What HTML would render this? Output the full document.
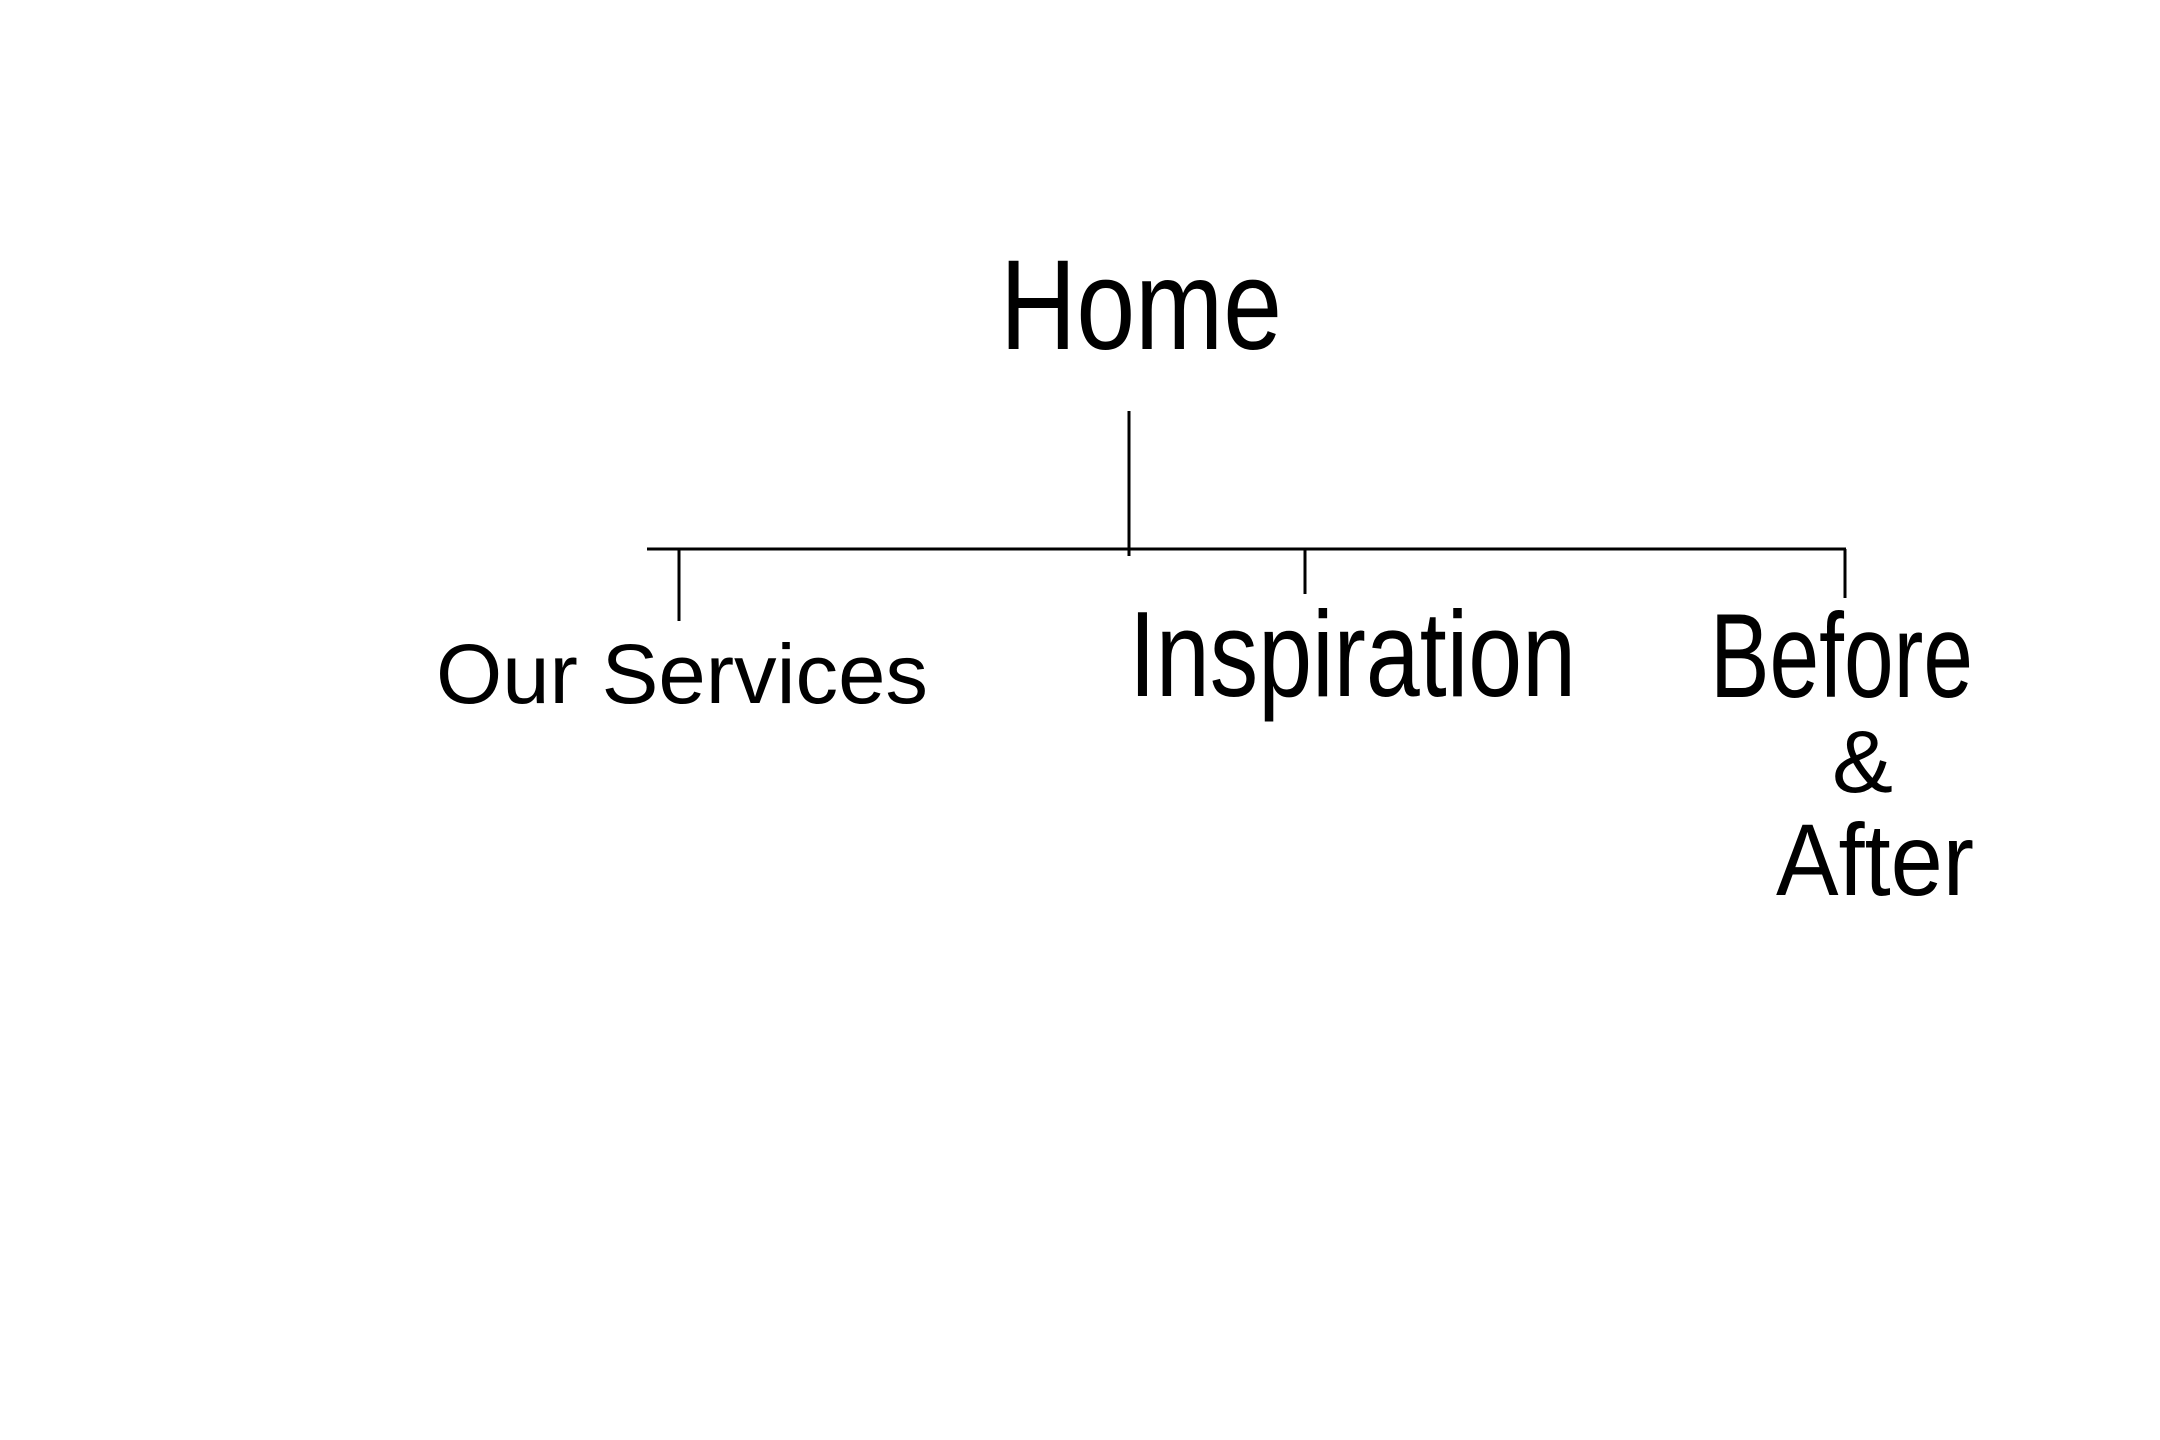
<!DOCTYPE html>
<html><head><meta charset="utf-8"><style>html,body{margin:0;padding:0;background:#fff;}svg{display:block}</style></head>
<body>
<svg width="2160" height="1440" viewBox="0 0 2160 1440" xmlns="http://www.w3.org/2000/svg">
<rect width="2160" height="1440" fill="#fff"/>
<g stroke="#000" stroke-width="3" fill="none">
<line x1="1129" y1="411" x2="1129" y2="556"/>
<line x1="647" y1="549" x2="1846" y2="549"/>
<line x1="679" y1="549" x2="679" y2="621"/>
<line x1="1305" y1="549" x2="1305" y2="594"/>
<line x1="1845" y1="549" x2="1845" y2="598"/>
</g>
<g font-family="Liberation Sans, sans-serif" fill="#000" font-weight="normal">
<text x="1000" y="349" font-size="128" textLength="282" lengthAdjust="spacingAndGlyphs">Home</text>
<text x="436" y="703" font-size="84" textLength="492" lengthAdjust="spacingAndGlyphs">Our Services</text>
<text x="1129" y="696" font-size="122" textLength="447" lengthAdjust="spacingAndGlyphs">Inspiration</text>
<text x="1710" y="697" font-size="120" textLength="263" lengthAdjust="spacingAndGlyphs">Before</text>
<text x="1832" y="792" font-size="88" textLength="61" lengthAdjust="spacingAndGlyphs">&amp;</text>
<text x="1776" y="895" font-size="102" textLength="198" lengthAdjust="spacingAndGlyphs">After</text>
</g>
</svg>
</body></html>
